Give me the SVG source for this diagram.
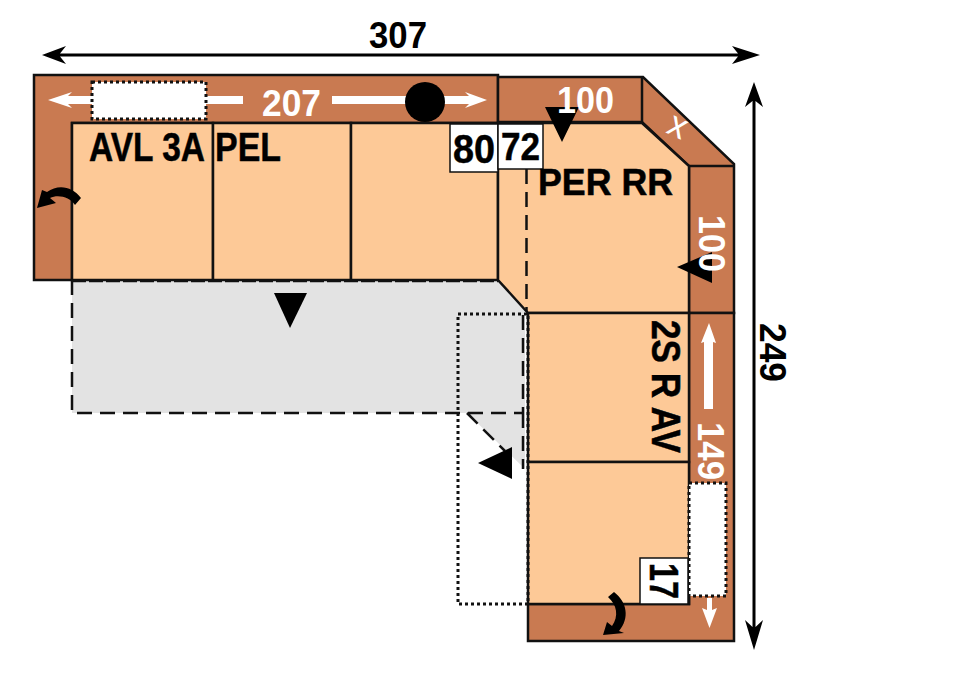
<svg xmlns="http://www.w3.org/2000/svg" width="959" height="686" viewBox="0 0 959 686">
<style>
.arm{fill:#c97a51;stroke:#111;stroke-width:2.500}
.seat{fill:#fdc997;stroke:#111;stroke-width:2.500}
.ln{fill:none;stroke:#111;stroke-width:2.500}
.dash{fill:none;stroke:#111;stroke-width:2.500;stroke-dasharray:15 8}
.dot{stroke:#111;stroke-width:3;stroke-dasharray:3 3}
.box{fill:#fff;stroke:#111;stroke-width:1.500}
text{font-family:"Liberation Sans",Arial,sans-serif;font-weight:bold}
.k{fill:#000;font-size:41px;stroke:#000;stroke-width:.5px}
.w{fill:#fff;font-size:37px}
</style>
<rect width="959" height="686" fill="#fff"/>
<g id="footprint">
<path fill="#e3e3e3" d="M72 280H498L525 310V469L467 413H72Z"/>
</g>
<g id="back-left">
<path class="arm" d="M34 75H498V123H72V280H34Z"/>
</g>
<g id="corner-arm">
<path class="arm" d="M498 77H643L734 164V313H689V166L642 122H498Z"/>
<path class="ln" d="M642 77V122M689 166H734"/>
</g>
<g id="right-arm">
<path class="arm" d="M689 313H734V641H528V604H689Z"/>
</g>
<g id="seat-left">
<rect class="seat" x="72" y="123" width="141" height="157"/>
<rect class="seat" x="213" y="123" width="138" height="157"/>
<rect class="seat" x="351" y="123" width="147" height="157"/>
</g>
<g id="seat-corner">
<path class="seat" d="M498 123H642L689 166V313H528L498 280Z"/>
</g>
<g id="seat-right">
<rect class="seat" x="528" y="313" width="161" height="149"/>
<rect class="seat" x="528" y="462" width="161" height="142"/>
</g>
<g id="connectors">
<path class="dash" d="M72 280V413H523V313M523 413V469M467 413L505 451M526.500 169V311"/>
<path class="ln" style="stroke-dasharray:14 3" d="M72 281H498"/>
<rect x="458" y="314" width="70" height="290" fill="none" class="dot"/>
<path d="M42 55L66 46 60 53.500H738L732 46 760 55 732 64 738 56.500H60L66 64Z" fill="#000"/>
<path d="M754 82L763 107 755.500 101V627L763 620 754 650 745 620 752.500 627V101L745 107Z" fill="#000"/>
<path d="M48 100L72 92 68 96H92V104H68L72 108Z M205 96H243V104H205Z M332 96H469L465 92 487 100 465 108 469 104H332Z" fill="#fff"/>
<path d="M709 323L716 343 713 342V409H704V342L701 343Z M707 598H712V610L717 608 709.500 628 702 608 707 610Z" fill="#fff"/>
<rect x="92" y="82" width="114" height="37" fill="#fff" class="dot"/>
<rect x="689" y="483" width="37" height="113" fill="#fff" class="dot"/>
<circle cx="425" cy="102" r="20" fill="#000"/>
<path d="M545 107H579L562 142Z M677 267L712 252V283Z M512 447V479L478 463Z" fill="#000"/>
<path d="M274 293H307L290 328Z" fill="#000"/>
<path d="M81 198L75 205C70 197 58 194 50 198L56 203 37 208 42 190 47 192C58 184 72 186 81 198Z" fill="#000"/>
<path d="M608 597L614 592C627 602 630 618 619 631L624 633 603 635 607 622 612 626C619 616 617 605 608 597Z" fill="#000"/>
</g>
<g id="labels">
<text x="369" y="48" style="font-size:37px" textLength="58" lengthAdjust="spacingAndGlyphs" fill="#000">307</text>
<text x="262" y="116" class="w" textLength="59" lengthAdjust="spacingAndGlyphs">207</text>
<text x="557" y="113" class="w" textLength="57" lengthAdjust="spacingAndGlyphs">100</text>
<text x="89" y="161" class="k" textLength="116" lengthAdjust="spacingAndGlyphs">AVL 3A</text>
<text x="215" y="161" class="k" textLength="66" lengthAdjust="spacingAndGlyphs">PEL</text>
<rect class="box" x="450" y="124" width="48" height="48"/>
<rect class="box" x="498" y="124" width="45" height="45"/>
<text x="453" y="163" class="k" textLength="42" lengthAdjust="spacingAndGlyphs">80</text>
<text x="501" y="160" class="k" style="font-size:38px" textLength="39" lengthAdjust="spacingAndGlyphs">72</text>
<text x="538" y="195" class="k" style="font-size:37px" textLength="135" lengthAdjust="spacingAndGlyphs">PER RR</text>
<text transform="translate(699,215) rotate(90)" class="w" textLength="57" lengthAdjust="spacingAndGlyphs">100</text>
<text transform="translate(652,320) rotate(90)" class="k" textLength="133" lengthAdjust="spacingAndGlyphs">2S R AV</text>
<text transform="translate(698,422) rotate(90)" class="w" textLength="58" lengthAdjust="spacingAndGlyphs">149</text>
<rect class="box" x="640" y="558" width="48" height="46"/>
<text transform="translate(650,563) rotate(90)" class="k" textLength="36" lengthAdjust="spacingAndGlyphs">17</text>
<text transform="translate(760,323) rotate(90)" fill="#000" style="font-size:37px" textLength="59" lengthAdjust="spacingAndGlyphs">249</text>
<text transform="translate(677,128) rotate(25)" y="9" text-anchor="middle" fill="#fff" style="font-size:36px;font-weight:normal">x</text>
</g>
</svg>
